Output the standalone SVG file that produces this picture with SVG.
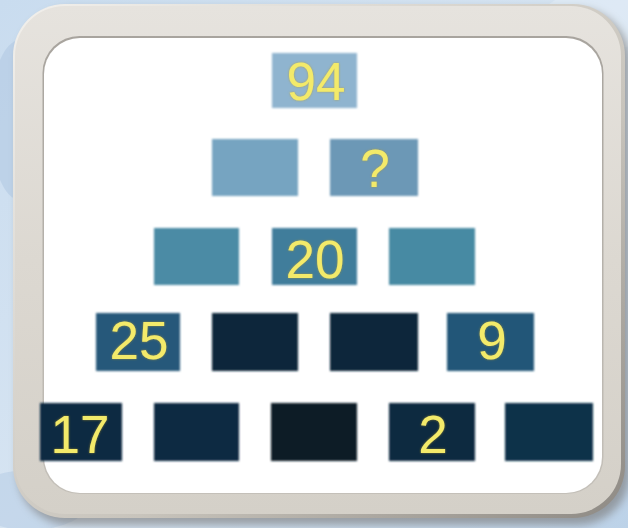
<svg xmlns="http://www.w3.org/2000/svg" width="628" height="528" viewBox="0 0 628 528">
  <defs>
    <linearGradient id="bg" x1="0" y1="0" x2="1" y2="1">
      <stop offset="0" stop-color="#c9dcef"/>
      <stop offset="0.5" stop-color="#d6e4f2"/>
      <stop offset="1" stop-color="#bcd2e8"/>
    </linearGradient>
    <linearGradient id="frame" x1="0" y1="0" x2="0" y2="1">
      <stop offset="0" stop-color="#e6e3de"/>
      <stop offset="0.5" stop-color="#dcd8d1"/>
      <stop offset="1" stop-color="#d4d0c8"/>
    </linearGradient>
    <linearGradient id="frameEdge" x1="0" y1="0" x2="1" y2="1">
      <stop offset="0" stop-color="#f2f0ec"/>
      <stop offset="0.6" stop-color="#c8c4bc"/>
      <stop offset="1" stop-color="#8e8a84"/>
    </linearGradient>
    <linearGradient id="innerEdge" x1="0" y1="0" x2="0" y2="1">
      <stop offset="0" stop-color="#a8a49e"/>
      <stop offset="1" stop-color="#c4c0b9"/>
    </linearGradient>
    <filter id="soft" x="-10%" y="-10%" width="120%" height="120%">
      <feGaussianBlur stdDeviation="0.8"/>
    </filter>
    <filter id="shadow" x="-10%" y="-10%" width="125%" height="125%">
      <feGaussianBlur stdDeviation="4"/>
    </filter>
    <filter id="glow" x="-20%" y="-20%" width="140%" height="140%">
      <feGaussianBlur in="SourceAlpha" stdDeviation="1.2" result="b"/>
      <feFlood flood-color="#b89a2a" flood-opacity="0.7"/>
      <feComposite in2="b" operator="in" result="g"/>
      <feMerge><feMergeNode in="g"/><feMergeNode in="SourceGraphic"/></feMerge>
    </filter>
  </defs>
  <style>
    .box { filter: url(#soft); }
    .num { font-family: "Liberation Sans", Arial, sans-serif; font-size: 53px; fill: #f3ea6a; text-anchor: middle; filter: url(#glow); }
  </style>

  <!-- background -->
  <rect x="0" y="0" width="628" height="528" fill="url(#bg)"/>
  <ellipse cx="20" cy="120" rx="30" ry="80" fill="#b2c9e2" opacity="0.6"/>
  <ellipse cx="600" cy="20" rx="60" ry="30" fill="#e3edf7" opacity="0.6"/>
  <ellipse cx="30" cy="500" rx="60" ry="30" fill="#b9cfe6" opacity="0.6"/>

  <!-- frame -->
  <rect x="18" y="9" width="612" height="516" rx="52" fill="#6f6c68" opacity="0.55" filter="url(#shadow)"/>
  <rect x="13" y="4" width="612" height="514" rx="52" fill="url(#frameEdge)"/>
  <rect x="15" y="6" width="606" height="508" rx="50" fill="url(#frame)"/>
  <rect x="42.5" y="36" width="561" height="458" rx="37" fill="url(#innerEdge)"/>
  <rect x="44" y="38" width="558" height="455" rx="36" fill="#ffffff"/>

  <!-- row 1 -->
  <g id="n94">
    <rect class="box" x="272" y="53" width="85" height="55" fill="#8fb4cf"/>
    <text class="num" x="316" y="100">94</text>
  </g>

  <!-- row 2 -->
  <g id="r2a">
    <rect class="box" x="212" y="139" width="86" height="57" fill="#76a4c1"/>
  </g>
  <g id="r2b">
    <rect class="box" x="330" y="139" width="88" height="57" fill="#6c98b6"/>
    <text class="num" x="375" y="187">?</text>
  </g>

  <!-- row 3 -->
  <g id="r3a">
    <rect class="box" x="154" y="228" width="85" height="57" fill="#4b8ba5"/>
  </g>
  <g id="n20">
    <rect class="box" x="272" y="228" width="85" height="57" fill="#3f7d9b"/>
    <text class="num" x="315" y="278">20</text>
  </g>
  <g id="r3c">
    <rect class="box" x="389" y="228" width="86" height="57" fill="#478aa3"/>
  </g>

  <!-- row 4 -->
  <g id="n25">
    <rect class="box" x="96" y="313" width="84" height="58" fill="#27587a"/>
    <text class="num" x="139" y="359">25</text>
  </g>
  <g id="r4b">
    <rect class="box" x="212" y="313" width="86" height="58" fill="#10263a"/>
  </g>
  <g id="r4c">
    <rect class="box" x="330" y="313" width="88" height="58" fill="#10253a"/>
  </g>
  <g id="n9">
    <rect class="box" x="447" y="313" width="87" height="58" fill="#245778"/>
    <text class="num" x="492" y="359">9</text>
  </g>

  <!-- row 5 -->
  <g id="n17">
    <rect class="box" x="40" y="403" width="82" height="58" fill="#0f2a42"/>
    <text class="num" x="80" y="453">17</text>
  </g>
  <g id="r5b">
    <rect class="box" x="154" y="403" width="85" height="58" fill="#112b42"/>
  </g>
  <g id="r5c">
    <rect class="box" x="271" y="403" width="86" height="58" fill="#0d1a26"/>
  </g>
  <g id="n2">
    <rect class="box" x="389" y="403" width="86" height="58" fill="#102a40"/>
    <text class="num" x="433" y="453">2</text>
  </g>
  <g id="r5e">
    <rect class="box" x="505" y="403" width="88" height="58" fill="#11304a"/>
  </g>

  <g id="connectors"/>
</svg>
